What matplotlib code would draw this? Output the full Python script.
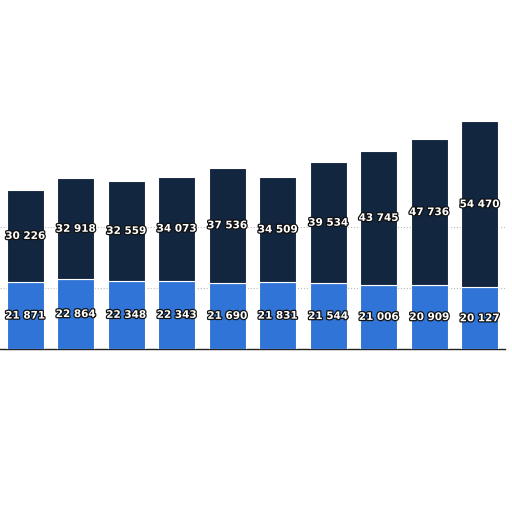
import matplotlib
matplotlib.use("Agg")
import matplotlib.pyplot as plt
import matplotlib.patheffects as pe
import numpy as np

categories = [str(i) for i in range(1, 11)]
bottom_vals = [21871, 22864, 22348, 22343, 21690, 21831, 21544, 21006, 20909, 20127]
top_vals = [30226, 32918, 32559, 34073, 37536, 34509, 39534, 43745, 47736, 54470]

def fmt(v):
    return f"{v:,}".replace(",", " ")

fig = plt.figure(figsize=(5.12, 5.12), dpi=100)
ax = fig.add_axes([0.0, (512 - 349) / 512, 505 / 512, 240 / 512])

x = np.arange(len(categories))
ax.bar(x, bottom_vals, width=0.74, color="#2f74d6", edgecolor="white", linewidth=0.8, zorder=3)
ax.bar(x, top_vals, width=0.74, bottom=bottom_vals, color="#13263f", edgecolor="white", linewidth=0.8, zorder=3)

effects = [pe.withStroke(linewidth=1.8, foreground="#111111")]
for xi, bv, tv in zip(x, bottom_vals, top_vals):
    ax.text(xi, bv / 2, fmt(bv), ha="center", va="center", color="white",
            fontsize=7.5, fontweight="bold", path_effects=effects, zorder=5)
    ax.text(xi, bv + tv / 2, fmt(tv), ha="center", va="center", color="white",
            fontsize=7.5, fontweight="bold", path_effects=effects, zorder=5)

ax.set_xlim(-0.5, len(categories) - 0.5)
ax.set_ylim(0, 78500)
ax.set_yticks([20000, 40000])
ax.yaxis.grid(True, linestyle=":", color="#bbbbbb", linewidth=0.8, zorder=0)
ax.tick_params(left=False, bottom=False, labelleft=False, labelbottom=False)
for s in ["top", "right", "left"]:
    ax.spines[s].set_visible(False)
ax.spines["bottom"].set_color("#222222")
ax.spines["bottom"].set_linewidth(1.0)

fig.savefig("out.png", dpi=100, facecolor="white")
